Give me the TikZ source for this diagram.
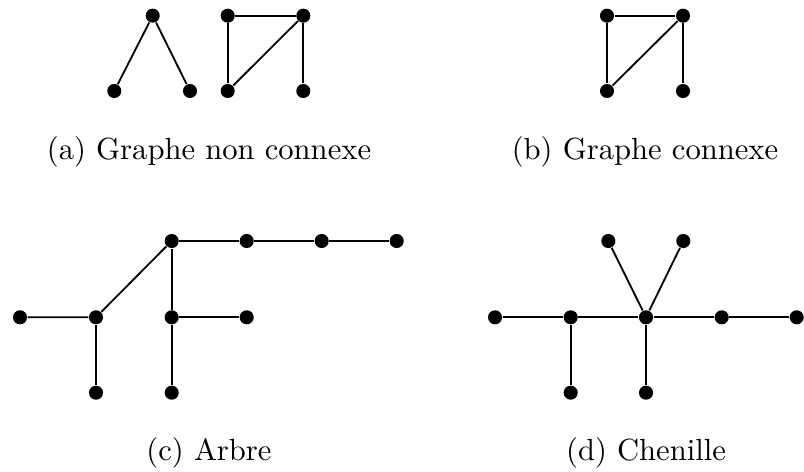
\documentclass[tikz,border=0pt]{standalone}
\begin{document}
\begin{tikzpicture}[x=0.3268pt,y=-0.3268pt,
  vtx/.style={circle,fill=black,inner sep=0pt,minimum size=4.6pt},
  edge/.style={line width=0.6pt},
  captext/.style={anchor=base,inner sep=0pt}]
\useasboundingbox (0,0) rectangle (804,472);
% (a)
\node[vtx] (a1) at (152.7,15.7) {};
\node[vtx] (a2) at (114.3,91) {};
\node[vtx] (a3) at (190,91) {};
\node[vtx] (a4) at (227.7,15.7) {};
\node[vtx] (a5) at (303.3,15.7) {};
\node[vtx] (a6) at (227.7,91) {};
\node[vtx] (a7) at (303.3,91) {};
\draw[edge] (a2) -- (a1) -- (a3);
\draw[edge] (a6) -- (a4) -- (a5) -- (a7);
\draw[edge] (a5) -- (a6);
\node[captext] (capa) at (209,159.3) {(a) Graphe non connexe};
% (b)
\node[vtx] (b1) at (607,15.7) {};
\node[vtx] (b2) at (683,15.7) {};
\node[vtx] (b3) at (607,91) {};
\node[vtx] (b4) at (683,91) {};
\draw[edge] (b3) -- (b1) -- (b2) -- (b4);
\draw[edge] (b2) -- (b3);
\node[captext] (capb) at (645,159.3) {(b) Graphe connexe};
% (c)
\node[vtx] (c1) at (171.7,241) {};
\node[vtx] (c2) at (246.7,241) {};
\node[vtx] (c3) at (321.7,241) {};
\node[vtx] (c4) at (396.7,241) {};
\node[vtx] (c5) at (20,317.3) {};
\node[vtx] (c6) at (96,317.3) {};
\node[vtx] (c7) at (171.7,317.3) {};
\node[vtx] (c8) at (246.7,317.3) {};
\node[vtx] (c9) at (96,392.7) {};
\node[vtx] (c10) at (171.7,392.7) {};
\draw[edge] (c1) -- (c2) -- (c3) -- (c4);
\draw[edge] (c5) -- (c6) -- (c1);
\draw[edge] (c6) -- (c9);
\draw[edge] (c1) -- (c7) -- (c10);
\draw[edge] (c7) -- (c8);
\node[captext] (capc) at (209,460) {(c) Arbre};
% (d)
\node[vtx] (d1) at (608.3,241) {};
\node[vtx] (d2) at (683.3,241) {};
\node[vtx] (d3) at (495,317.3) {};
\node[vtx] (d4) at (570.7,317.3) {};
\node[vtx] (d5) at (646,317.3) {};
\node[vtx] (d6) at (721.7,317.3) {};
\node[vtx] (d7) at (796.7,317.3) {};
\node[vtx] (d8) at (570.7,392.7) {};
\node[vtx] (d9) at (646,392.7) {};
\draw[edge] (d3) -- (d4) -- (d5) -- (d6) -- (d7);
\draw[edge] (d1) -- (d5) -- (d2);
\draw[edge] (d4) -- (d8);
\draw[edge] (d5) -- (d9);
\node[captext] (capd) at (646,460) {(d) Chenille};
\end{tikzpicture}
\end{document}
